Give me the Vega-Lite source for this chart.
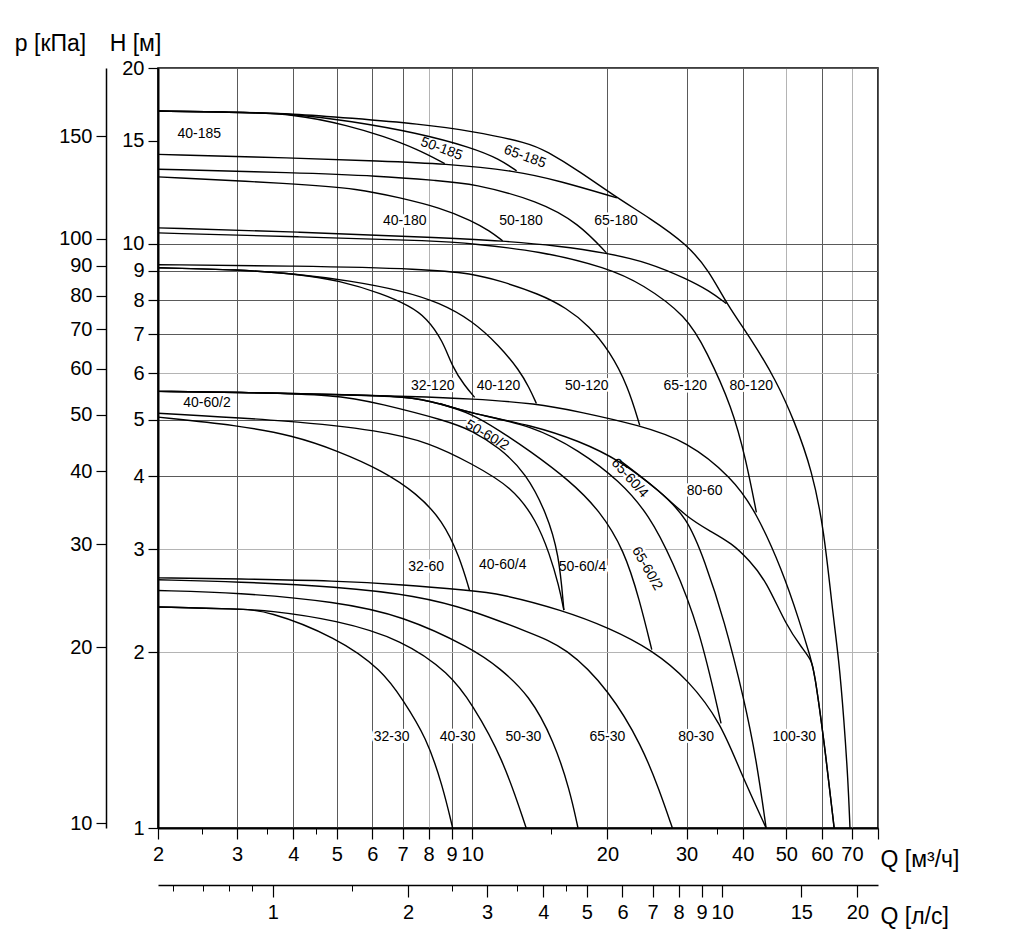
{
 "$schema": "https://vega.github.io/schema/vega-lite/v6.json",
 "width": 720, "height": 760,
 "autosize": {"type": "none"},
 "padding": {"left": 158, "top": 68, "right": 135, "bottom": 123},
 "background": "white",
 "config": {
  "view": {"stroke": "#000", "strokeWidth": 1.6},
  "font": "Liberation Sans",
  "axis": {"labelFont": "Liberation Sans", "titleFont": "Liberation Sans", "labelColor": "#000", "titleColor": "#000", "tickColor": "#000", "domainColor": "#000", "labelFontSize": 20, "titleFontSize": 23, "titleFontWeight": "normal", "labelOverlap": false, "labelFlush": false, "labelBound": false}
 },
 "datasets": {
  "curves": [
   {"s":"T1","Q":2,"H":16.88},{"s":"T1","Q":2.89,"H":16.81},{"s":"T1","Q":4.03,"H":16.7},{"s":"T1","Q":5.34,"H":16.42},{"s":"T1","Q":7.64,"H":16.04},{"s":"T1","Q":10,"H":15.6},{"s":"T1","Q":13.4,"H":14.88},{"s":"T1","Q":14.6,"H":14.42},{"s":"T1","Q":17.3,"H":13.33},{"s":"T1","Q":21,"H":11.99},{"s":"T1","Q":24.8,"H":11.08},{"s":"T1","Q":30,"H":10},{"s":"T1","Q":33.7,"H":8.99},{"s":"T1","Q":36.8,"H":7.9},{"s":"T1","Q":42,"H":6.83},{"s":"T1","Q":47.5,"H":5.83},{"s":"T1","Q":52.1,"H":4.98},{"s":"T1","Q":57.1,"H":4.09},{"s":"T1","Q":60.7,"H":3.23},{"s":"T1","Q":63.2,"H":2.39},{"s":"T1","Q":65.5,"H":1.94},{"s":"T1","Q":67.2,"H":1.53},{"s":"T1","Q":68.6,"H":1.21},{"s":"T1","Q":69.3,"H":1.0},
   {"s":"T2","Q":2,"H":16.88},{"s":"T2","Q":2.89,"H":16.81},{"s":"T2","Q":4.03,"H":16.7},{"s":"T2","Q":5.34,"H":15.91},{"s":"T2","Q":6.32,"H":15.3},{"s":"T2","Q":7.53,"H":14.54},{"s":"T2","Q":8.69,"H":13.72},
   {"s":"T3","Q":2,"H":16.88},{"s":"T3","Q":2.89,"H":16.81},{"s":"T3","Q":4.03,"H":16.7},{"s":"T3","Q":5.34,"H":16.23},{"s":"T3","Q":7.53,"H":15.5},{"s":"T3","Q":10,"H":14.61},{"s":"T3","Q":11.5,"H":13.97},{"s":"T3","Q":12.56,"H":13.33},
   {"s":"T4","Q":2,"H":14.23},{"s":"T4","Q":4.03,"H":14.03},{"s":"T4","Q":6.23,"H":13.86},{"s":"T4","Q":8.69,"H":13.72},{"s":"T4","Q":12.56,"H":13.33},{"s":"T4","Q":15.6,"H":12.82},{"s":"T4","Q":21,"H":11.99},
   {"s":"T5","Q":2,"H":13.42},{"s":"T5","Q":4.03,"H":13.24},{"s":"T5","Q":6.23,"H":13.07},{"s":"T5","Q":8.47,"H":12.82},{"s":"T5","Q":10,"H":12.69},{"s":"T5","Q":14.1,"H":11.84},{"s":"T5","Q":17.3,"H":10.82},{"s":"T5","Q":19.9,"H":9.65},
   {"s":"T6","Q":2,"H":13.02},{"s":"T6","Q":4.03,"H":12.68},{"s":"T6","Q":5.62,"H":12.42},{"s":"T6","Q":6.9,"H":11.99},{"s":"T6","Q":8.47,"H":11.54},{"s":"T6","Q":10,"H":10.95},{"s":"T6","Q":10.94,"H":10.52},{"s":"T6","Q":11.69,"H":10.12},
   {"s":"T7","Q":2,"H":10.65},{"s":"T7","Q":4.14,"H":10.48},{"s":"T7","Q":8.47,"H":10.25},{"s":"T7","Q":11.69,"H":10.12},{"s":"T7","Q":15.6,"H":9.92},{"s":"T7","Q":19.9,"H":9.65},{"s":"T7","Q":24.8,"H":9.28},{"s":"T7","Q":30,"H":8.71},{"s":"T7","Q":33.7,"H":8.31},{"s":"T7","Q":36.8,"H":7.9},
   {"s":"T8","Q":2,"H":10.44},{"s":"T8","Q":4.14,"H":10.28},{"s":"T8","Q":8.47,"H":10.12},{"s":"T8","Q":10,"H":10},{"s":"T8","Q":14.1,"H":9.73},{"s":"T8","Q":20,"H":9.1},{"s":"T8","Q":23.9,"H":8.54},{"s":"T8","Q":30,"H":7.53},{"s":"T8","Q":33.2,"H":6.56},{"s":"T8","Q":37.9,"H":5.25},{"s":"T8","Q":40.7,"H":4.26},{"s":"T8","Q":42.9,"H":3.47},
   {"s":"U1","Q":2,"H":9.21},{"s":"U1","Q":4.03,"H":9.17},{"s":"U1","Q":7.92,"H":9.06},{"s":"U1","Q":10,"H":8.89},{"s":"U1","Q":11.5,"H":8.65},{"s":"U1","Q":14.1,"H":8.21},{"s":"U1","Q":16.2,"H":7.77},{"s":"U1","Q":18.2,"H":7.24},{"s":"U1","Q":20.2,"H":6.56},{"s":"U1","Q":22.2,"H":5.72},{"s":"U1","Q":23.6,"H":4.89},
   {"s":"U2a","Q":2,"H":9.1},{"s":"U2a","Q":3.04,"H":9.03},{"s":"U2a","Q":4.03,"H":8.89},{"s":"U2a","Q":5.08,"H":8.65},{"s":"U2a","Q":6.32,"H":8.21},{"s":"U2a","Q":7.26,"H":7.83},{"s":"U2a","Q":7.92,"H":7.47},{"s":"U2a","Q":8.6,"H":6.83},{"s":"U2a","Q":9.05,"H":6.14},{"s":"U2a","Q":9.62,"H":5.72},{"s":"U2a","Q":10.13,"H":5.46},
   {"s":"U2b","Q":2,"H":9.1},{"s":"U2b","Q":3.04,"H":9.03},{"s":"U2b","Q":4.03,"H":8.89},{"s":"U2b","Q":5.34,"H":8.65},{"s":"U2b","Q":7.0,"H":8.31},{"s":"U2b","Q":8.47,"H":7.93},{"s":"U2b","Q":10,"H":7.39},{"s":"U2b","Q":11.5,"H":6.69},{"s":"U2b","Q":12.75,"H":6.07},{"s":"U2b","Q":13.4,"H":5.67},{"s":"U2b","Q":13.9,"H":5.33},
   {"s":"M1","Q":2,"H":5.59},{"s":"M1","Q":3.01,"H":5.57},{"s":"M1","Q":5,"H":5.52},{"s":"M1","Q":7.26,"H":5.48},{"s":"M1","Q":10,"H":5.43},{"s":"M1","Q":13.9,"H":5.33},{"s":"M1","Q":17.3,"H":5.16},{"s":"M1","Q":23.6,"H":4.89},{"s":"M1","Q":30,"H":4.6},{"s":"M1","Q":37.9,"H":3.98},{"s":"M1","Q":42.9,"H":3.47},{"s":"M1","Q":49,"H":2.76},{"s":"M1","Q":53.4,"H":2.27},{"s":"M1","Q":56.8,"H":1.94},{"s":"M1","Q":57.7,"H":1.86},{"s":"M1","Q":60.7,"H":1.41},{"s":"M1","Q":63.9,"H":1.0},
   {"s":"M2","Q":2,"H":5.13},{"s":"M2","Q":3.99,"H":4.98},{"s":"M2","Q":6.23,"H":4.79},{"s":"M2","Q":8.04,"H":4.57},{"s":"M2","Q":10,"H":4.2},{"s":"M2","Q":12.3,"H":3.83},{"s":"M2","Q":13.9,"H":3.36},{"s":"M2","Q":14.86,"H":2.95},{"s":"M2","Q":15.6,"H":2.6},{"s":"M2","Q":16,"H":2.36},
   {"s":"M3","Q":2,"H":5.59},{"s":"M3","Q":3.01,"H":5.57},{"s":"M3","Q":5,"H":5.52},{"s":"M3","Q":6.23,"H":5.33},{"s":"M3","Q":8.78,"H":4.98},{"s":"M3","Q":10,"H":4.79},{"s":"M3","Q":11.5,"H":4.48},{"s":"M3","Q":13.19,"H":4.05},{"s":"M3","Q":14.64,"H":3.46},{"s":"M3","Q":15.6,"H":2.95},{"s":"M3","Q":16,"H":2.36},
   {"s":"M4","Q":2,"H":5.59},{"s":"M4","Q":3.01,"H":5.57},{"s":"M4","Q":5,"H":5.52},{"s":"M4","Q":7.26,"H":5.48},{"s":"M4","Q":8.47,"H":5.33},{"s":"M4","Q":10,"H":5.12},{"s":"M4","Q":13.6,"H":4.89},{"s":"M4","Q":17.3,"H":4.6},{"s":"M4","Q":21.3,"H":4.26},{"s":"M4","Q":26.1,"H":3.78},{"s":"M4","Q":30.1,"H":3.4},{"s":"M4","Q":32.9,"H":2.87},{"s":"M4","Q":36.4,"H":2.27},{"s":"M4","Q":40.3,"H":1.66},{"s":"M4","Q":42.9,"H":1.31},{"s":"M4","Q":45.1,"H":1.0},
   {"s":"M5","Q":5,"H":5.52},{"s":"M5","Q":7.26,"H":5.48},{"s":"M5","Q":8.47,"H":5.33},{"s":"M5","Q":10,"H":5.12},{"s":"M5","Q":11.5,"H":4.79},{"s":"M5","Q":13.4,"H":4.43},{"s":"M5","Q":16.5,"H":3.93},{"s":"M5","Q":19.2,"H":3.5},{"s":"M5","Q":21.8,"H":2.99},{"s":"M5","Q":23.6,"H":2.45},{"s":"M5","Q":25.1,"H":2.02},
   {"s":"M6","Q":8.47,"H":5.33},{"s":"M6","Q":10,"H":5.12},{"s":"M6","Q":13.6,"H":4.89},{"s":"M6","Q":17.3,"H":4.43},{"s":"M6","Q":21.3,"H":3.93},{"s":"M6","Q":24.8,"H":3.43},{"s":"M6","Q":27.9,"H":2.87},{"s":"M6","Q":32,"H":2.21},{"s":"M6","Q":35.8,"H":1.51},
   {"s":"X","Q":21.3,"H":4.26},{"s":"X","Q":26.1,"H":3.78},{"s":"X","Q":30.1,"H":3.4},{"s":"X","Q":33.7,"H":3.23},{"s":"X","Q":37.9,"H":3.07},{"s":"X","Q":41.4,"H":2.87},{"s":"X","Q":45.1,"H":2.65},{"s":"X","Q":50,"H":2.22},{"s":"X","Q":54.3,"H":2.03},{"s":"X","Q":56.8,"H":1.94},{"s":"X","Q":57.7,"H":1.86},{"s":"X","Q":60.7,"H":1.41},{"s":"X","Q":63.9,"H":1.0},
   {"s":"P32","Q":2,"H":5.05},{"s":"P32","Q":3.01,"H":4.89},{"s":"P32","Q":3.99,"H":4.7},{"s":"P32","Q":5,"H":4.43},{"s":"P32","Q":6.32,"H":4.09},{"s":"P32","Q":7.53,"H":3.74},{"s":"P32","Q":8.6,"H":3.36},{"s":"P32","Q":9.38,"H":2.91},{"s":"P32","Q":9.87,"H":2.55},
   {"s":"L1","Q":2,"H":2.68},{"s":"L1","Q":3.01,"H":2.67},{"s":"L1","Q":5,"H":2.65},{"s":"L1","Q":7,"H":2.61},{"s":"L1","Q":9.87,"H":2.55},{"s":"L1","Q":11.5,"H":2.52},{"s":"L1","Q":15.9,"H":2.36},{"s":"L1","Q":20.2,"H":2.2},{"s":"L1","Q":25.1,"H":2.02},{"s":"L1","Q":30.4,"H":1.79},{"s":"L1","Q":35.8,"H":1.51},{"s":"L1","Q":39.3,"H":1.26},{"s":"L1","Q":45.1,"H":1.0},
   {"s":"L2","Q":2,"H":2.66},{"s":"L2","Q":3.01,"H":2.64},{"s":"L2","Q":5,"H":2.59},{"s":"L2","Q":7.53,"H":2.5},{"s":"L2","Q":10,"H":2.36},{"s":"L2","Q":13.4,"H":2.16},{"s":"L2","Q":16.2,"H":2.04},{"s":"L2","Q":20.2,"H":1.72},{"s":"L2","Q":23.9,"H":1.38},{"s":"L2","Q":26.1,"H":1.16},{"s":"L2","Q":27.9,"H":1.0},
   {"s":"L3","Q":2,"H":2.55},{"s":"L3","Q":3.01,"H":2.53},{"s":"L3","Q":5,"H":2.44},{"s":"L3","Q":7,"H":2.31},{"s":"L3","Q":10,"H":2.03},{"s":"L3","Q":11.5,"H":1.88},{"s":"L3","Q":13.4,"H":1.69},{"s":"L3","Q":15.2,"H":1.41},{"s":"L3","Q":16.5,"H":1.16},{"s":"L3","Q":17.2,"H":1.0},
   {"s":"L4","Q":2,"H":2.39},{"s":"L4","Q":3.01,"H":2.37},{"s":"L4","Q":3.49,"H":2.36},{"s":"L4","Q":5,"H":2.12},{"s":"L4","Q":6.32,"H":1.86},{"s":"L4","Q":7,"H":1.66},{"s":"L4","Q":7.91,"H":1.43},{"s":"L4","Q":8.6,"H":1.18},{"s":"L4","Q":9.05,"H":1.0},
   {"s":"L5","Q":2,"H":2.39},{"s":"L5","Q":3.01,"H":2.37},{"s":"L5","Q":3.49,"H":2.36},{"s":"L5","Q":5,"H":2.27},{"s":"L5","Q":7,"H":2.1},{"s":"L5","Q":8.91,"H":1.84},{"s":"L5","Q":10,"H":1.63},{"s":"L5","Q":11.69,"H":1.32},{"s":"L5","Q":13.19,"H":1.0}
  ],
  "labels": [
   {"t":"40-185","Q":2.47,"H":15.42},{"t":"50-185","Q":8.55,"H":14.54},{"t":"65-185","Q":13.1,"H":14.1},
   {"t":"40-180","Q":7.08,"H":10.95},{"t":"50-180","Q":12.85,"H":10.95},{"t":"65-180","Q":20.9,"H":10.95},
   {"t":"32-120","Q":8.17,"H":5.72},{"t":"40-120","Q":11.45,"H":5.72},{"t":"50-120","Q":18.0,"H":5.72},{"t":"65-120","Q":29.8,"H":5.72},{"t":"80-120","Q":41.8,"H":5.72},
   {"t":"40-60/2","Q":2.57,"H":5.35},{"t":"50-60/2","Q":10.8,"H":4.7},{"t":"65-60/4","Q":22.4,"H":3.97},{"t":"80-60","Q":32.9,"H":3.78},
   {"t":"32-60","Q":7.9,"H":2.8},{"t":"40-60/4","Q":11.7,"H":2.82},{"t":"50-60/4","Q":17.6,"H":2.8},{"t":"65-60/2","Q":24.5,"H":2.78},
   {"t":"32-30","Q":6.62,"H":1.43},{"t":"40-30","Q":9.28,"H":1.43},{"t":"50-30","Q":13.0,"H":1.43},{"t":"65-30","Q":20.0,"H":1.43},{"t":"80-30","Q":31.5,"H":1.43},{"t":"100-30","Q":52.1,"H":1.43}
  ]
 },
 "layer": [
  {
   "encoding": {
    "x": {"field": "Q", "type": "quantitative", "scale": {"type": "log", "domain": [2, 80]},
     "axis": {"title": "Q [м³/ч]", "values": [2,3,4,5,6,7,8,9,10,20,30,40,50,60,70,80], "format": "d",
      "labelExpr": "datum.value == 80 ? '' : datum.label",
      "grid": true, "gridWidth": 1,
      "gridColor": {"condition": {"test": "datum.value == 8 || datum.value == 50 || datum.value == 70", "value": "#b4b4b4"}, "value": "#5a5a5a"},
      "tickSize": 11, "tickWidth": 1.2, "domainWidth": 2, "labelPadding": 5,
      "titleAngle": 0, "titleAlign": "left", "titleBaseline": "middle", "titleX": 722, "titleY": 31}},
    "y": {"field": "H", "type": "quantitative", "scale": {"type": "log", "domain": [1, 20]},
     "axis": {"title": "H [м]", "values": [1,2,3,4,5,6,7,8,9,10,15,20], "format": "d",
      "grid": true, "gridWidth": 1,
      "gridColor": {"condition": {"test": "datum.value == 2 || datum.value == 3 || datum.value == 6", "value": "#b4b4b4"}, "value": "#5a5a5a"},
      "gridOpacity": {"condition": {"test": "datum.value == 15", "value": 0}, "value": 1},
      "tickSize": 10, "tickWidth": 1.2, "domainWidth": 2, "labelPadding": 4,
      "titleAngle": 0, "titleAlign": "center", "titleBaseline": "middle", "titleX": -23, "titleY": -25}}
   },
   "layer": [
    {"data": {"name": "labels"}, "transform": [{"filter": {"not": {"field": "t", "oneOf": ["50-185","65-185","50-60/2","65-60/4","65-60/2"]}}}],
     "mark": {"type": "text", "fontSize": 14, "fill": "white", "stroke": "white", "strokeWidth": 5, "align": "center", "baseline": "middle"}, "encoding": {"text": {"field": "t"}}},
    {"data": {"name": "labels"}, "transform": [{"filter": {"field": "t", "oneOf": ["50-185","65-185"]}}],
     "mark": {"type": "text", "fontSize": 14, "angle": 20, "fill": "white", "stroke": "white", "strokeWidth": 5, "align": "center", "baseline": "middle"}, "encoding": {"text": {"field": "t"}}},
    {"data": {"name": "labels"}, "transform": [{"filter": {"field": "t", "equal": "50-60/2"}}],
     "mark": {"type": "text", "fontSize": 14, "angle": 30, "fill": "white", "stroke": "white", "strokeWidth": 5, "align": "center", "baseline": "middle"}, "encoding": {"text": {"field": "t"}}},
    {"data": {"name": "labels"}, "transform": [{"filter": {"field": "t", "equal": "65-60/4"}}],
     "mark": {"type": "text", "fontSize": 14, "angle": 48, "fill": "white", "stroke": "white", "strokeWidth": 5, "align": "center", "baseline": "middle"}, "encoding": {"text": {"field": "t"}}},
    {"data": {"name": "labels"}, "transform": [{"filter": {"field": "t", "equal": "65-60/2"}}],
     "mark": {"type": "text", "fontSize": 14, "angle": 60, "fill": "white", "stroke": "white", "strokeWidth": 5, "align": "center", "baseline": "middle"}, "encoding": {"text": {"field": "t"}}},
    {"data": {"name": "curves"}, "mark": {"type": "line", "color": "#000", "strokeWidth": 1.4, "interpolate": "basis", "clip": true},
     "encoding": {"detail": {"field": "s", "type": "nominal"}}},
    {"data": {"name": "labels"}, "transform": [{"filter": {"not": {"field": "t", "oneOf": ["50-185","65-185","50-60/2","65-60/4","65-60/2"]}}}],
     "mark": {"type": "text", "fontSize": 14, "color": "#000", "align": "center", "baseline": "middle"}, "encoding": {"text": {"field": "t"}}},
    {"data": {"name": "labels"}, "transform": [{"filter": {"field": "t", "oneOf": ["50-185","65-185"]}}],
     "mark": {"type": "text", "fontSize": 14, "angle": 20, "color": "#000", "align": "center", "baseline": "middle"}, "encoding": {"text": {"field": "t"}}},
    {"data": {"name": "labels"}, "transform": [{"filter": {"field": "t", "equal": "50-60/2"}}],
     "mark": {"type": "text", "fontSize": 14, "angle": 30, "color": "#000", "align": "center", "baseline": "middle"}, "encoding": {"text": {"field": "t"}}},
    {"data": {"name": "labels"}, "transform": [{"filter": {"field": "t", "equal": "65-60/4"}}],
     "mark": {"type": "text", "fontSize": 14, "angle": 48, "color": "#000", "align": "center", "baseline": "middle"}, "encoding": {"text": {"field": "t"}}},
    {"data": {"name": "labels"}, "transform": [{"filter": {"field": "t", "equal": "65-60/2"}}],
     "mark": {"type": "text", "fontSize": 14, "angle": 60, "color": "#000", "align": "center", "baseline": "middle"}, "encoding": {"text": {"field": "t"}}}
   ]
  },
  {
   "data": {"values": [{"q3": 10}]},
   "mark": {"type": "point", "opacity": 0},
   "encoding": {"x": {"field": "q3", "type": "quantitative", "scale": {"type": "log", "domain": [2, 80]},
    "axis": {"orient": "bottom", "title": null, "values": [2.5,3.5,4.5,15,25,35], "labels": false, "domain": false,
     "grid": false, "tickSize": 6, "tickWidth": 1}}}
  },
  {
   "data": {"values": [{"p": 100}]},
   "mark": {"type": "point", "opacity": 0},
   "encoding": {"y": {"field": "p", "type": "quantitative", "scale": {"type": "log", "domain": [9.81, 196.2]},
    "axis": {"orient": "left", "offset": 52, "title": "p [кПа]", "values": [10,20,30,40,50,60,70,80,90,100,150], "format": "d",
     "grid": false, "tickSize": 10, "tickWidth": 1.2, "domainWidth": 1.5, "labelPadding": 4,
     "titleAngle": 0, "titleAlign": "center", "titleBaseline": "middle", "titleX": -56, "titleY": -25}}}
  },
  {
   "data": {"values": [{"q": 1}]},
   "mark": {"type": "point", "opacity": 0},
   "encoding": {"x": {"field": "q", "type": "quantitative", "scale": {"type": "log", "domain": [0.55556, 22.2222]},
    "axis": {"orient": "bottom", "offset": 57, "title": "Q [л/с]", "values": [1,2,3,4,5,6,7,8,9,10,15,20], "format": "d",
     "grid": false, "tickSize": 12, "tickWidth": 1.2, "domainWidth": 1.5, "labelPadding": 5,
     "titleAngle": 0, "titleAlign": "left", "titleBaseline": "middle", "titleX": 722, "titleY": 31}}}
  },
  {
   "data": {"values": [{"q2": 1}]},
   "mark": {"type": "point", "opacity": 0},
   "encoding": {"x": {"field": "q2", "type": "quantitative", "scale": {"type": "log", "domain": [0.55556, 22.2222]},
    "axis": {"orient": "bottom", "offset": 57, "title": null, "values": [0.6,0.7,0.8,0.9,1.5,2.5,3.5,4.5], "labels": false, "domain": false,
     "grid": false, "tickSize": 6, "tickWidth": 1}}}
  }
 ],
 "resolve": {"scale": {"x": "independent", "y": "independent"}}
}
